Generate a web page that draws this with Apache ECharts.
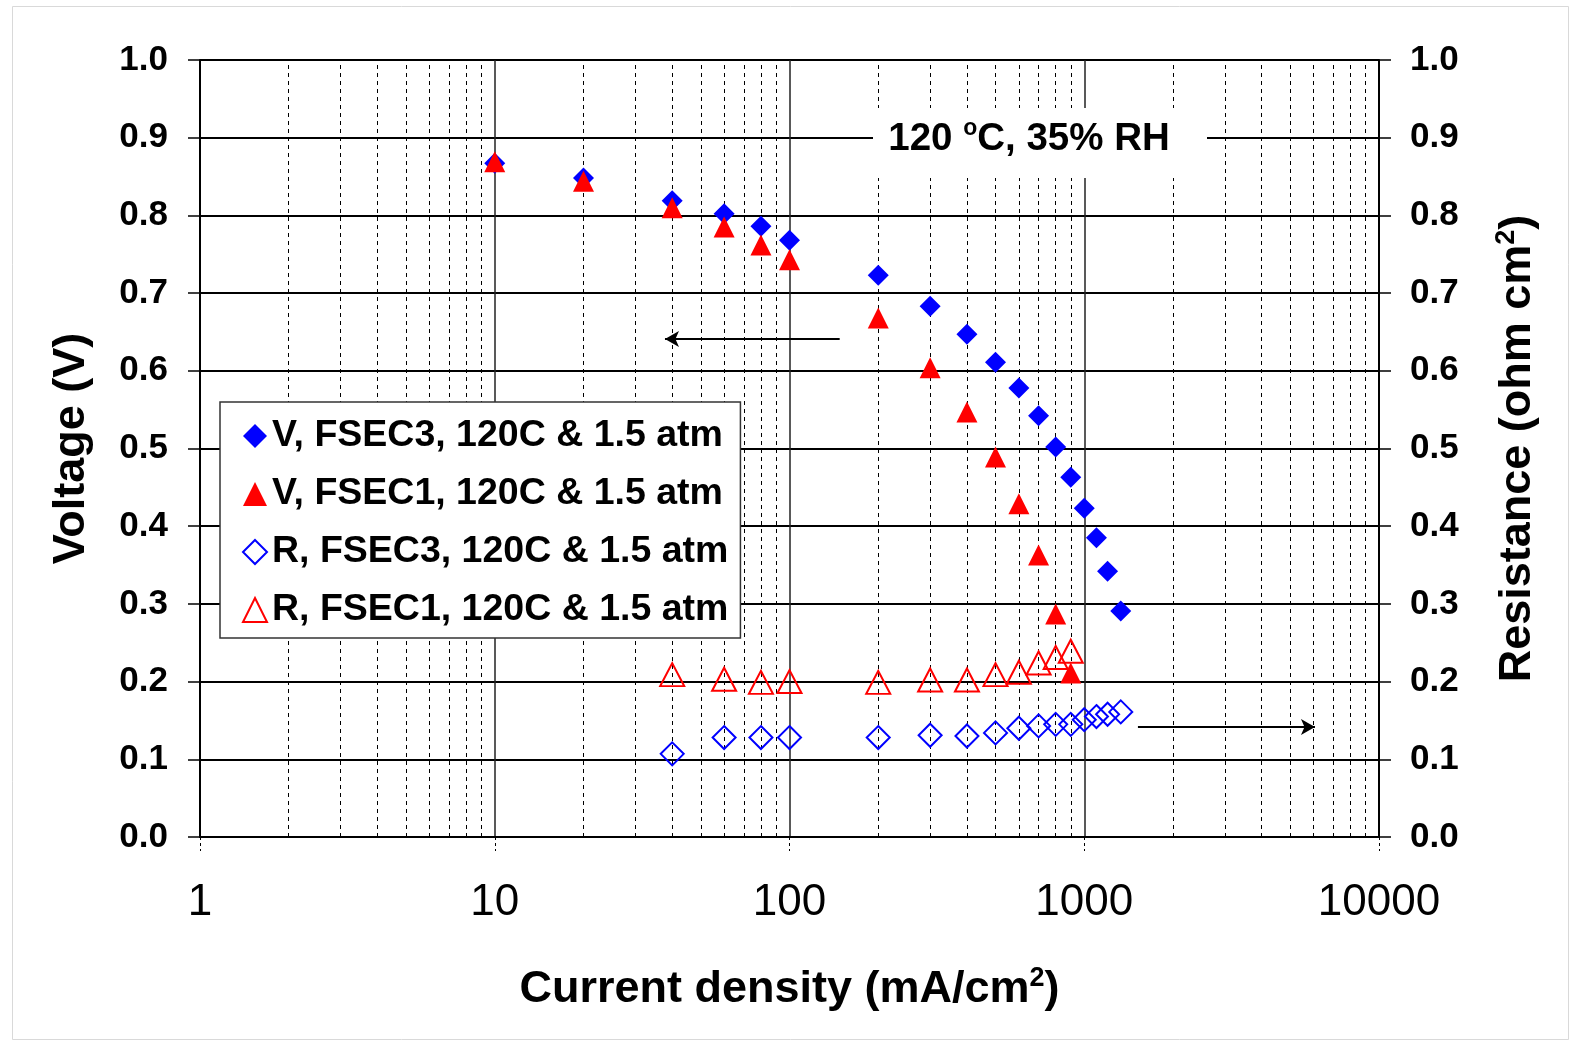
<!DOCTYPE html>
<html>
<head>
<meta charset="utf-8">
<script src="https://cdn.jsdelivr.net/npm/echarts/dist/echarts.min.js"></script>
<style>
html,body{margin:0;padding:0;background:#fff;}
#c{width:1571px;height:1041px;}
</style>
</head>
<body>
<div id="c"></div>
<script>
// ---- data ----
var xV3 = [10, 20, 40, 60, 80, 100, 200, 300, 400, 500, 600, 700, 800, 900, 1000, 1100, 1200, 1330];
var vFSEC3 = [0.867, 0.848, 0.819, 0.802, 0.786, 0.768, 0.723, 0.683, 0.647, 0.611, 0.578, 0.542, 0.502, 0.463, 0.423, 0.385, 0.342, 0.291];
var xV1 = [10, 20, 40, 60, 80, 100, 200, 300, 400, 500, 600, 700, 800, 900];
var vFSEC1 = [0.869, 0.844, 0.810, 0.785, 0.762, 0.743, 0.668, 0.604, 0.547, 0.489, 0.429, 0.363, 0.287, 0.211];
var xR3 = [40, 60, 80, 100, 200, 300, 400, 500, 600, 700, 800, 900, 1000, 1100, 1200, 1330];
var rFSEC3 = [0.107, 0.128, 0.128, 0.128, 0.128, 0.131, 0.130, 0.134, 0.140, 0.143, 0.145, 0.145, 0.151, 0.155, 0.158, 0.161];
var xR1 = [40, 60, 80, 100, 200, 300, 400, 500, 600, 700, 800, 900];
var rFSEC1 = [0.209, 0.203, 0.199, 0.200, 0.199, 0.202, 0.202, 0.209, 0.212, 0.224, 0.231, 0.239];
var seriesNames = ['V, FSEC3, 120C & 1.5 atm', 'V, FSEC1, 120C & 1.5 atm', 'R, FSEC3, 120C & 1.5 atm', 'R, FSEC1, 120C & 1.5 atm'];
var minorGridX = [2, 3, 4, 5, 6, 7, 8, 9, 20, 30, 40, 50, 60, 70, 80, 90, 200, 300, 400, 500, 600, 700, 800, 900, 2000, 3000, 4000, 5000, 6000, 7000, 8000, 9000];

function pairs(xs, ys) { return xs.map(function (x, i) { return [x, ys[i]]; }); }

var FONT = '"Liberation Sans", Arial, sans-serif';
var chart = echarts.init(document.getElementById('c'), null, {renderer: 'canvas'});

var option = {
  backgroundColor: '#fff',
  animation: false,
  textStyle: {fontFamily: FONT},
  grid: {left: 200, right: 192, top: 60, bottom: 204, containLabel: false},
  xAxis: {
    type: 'log', logBase: 10, min: 1, max: 10000,
    axisLine: {show: true, onZero: false, lineStyle: {color: '#000', width: 2}},
    axisTick: {show: true, length: 14, lineStyle: {color: '#000', width: 1, type: [3, 3]}},
    axisLabel: {color: '#000', fontSize: 44, fontFamily: FONT, margin: 44,
      formatter: function (v) { return String(Math.round(v)); }},
    splitLine: {show: true, lineStyle: {color: '#222', width: 1.5}},
    minorTick: {show: false}, minorSplitLine: {show: false},
    name: 'Current density (mA/cm{s|2})',
    nameLocation: 'middle', nameGap: 128,
    nameTextStyle: {color: '#000', fontSize: 45, fontWeight: 'bold', fontFamily: FONT, lineHeight: 50,
      rich: {s: {fontSize: 27, fontWeight: 'bold', fontFamily: FONT, verticalAlign: 'top', lineHeight: 26, color: '#000'}}}
  },
  yAxis: [{
    type: 'value', min: 0, max: 1, interval: 0.1,
    axisLine: {show: true, lineStyle: {color: '#000', width: 2}},
    axisTick: {show: true, length: 12, lineStyle: {color: '#000', width: 1.5}},
    axisLabel: {color: '#000', fontSize: 35, fontWeight: 'bold', fontFamily: FONT, margin: 32,
      formatter: function (v) { return v.toFixed(1); }},
    splitLine: {show: true, lineStyle: {color: '#000', width: 2}},
    name: 'Voltage (V)', nameLocation: 'middle', nameGap: 106, nameRotate: 90,
    nameTextStyle: {color: '#000', fontSize: 45, fontWeight: 'bold', fontFamily: FONT}
  }, {
    type: 'value', min: 0, max: 1, interval: 0.1, position: 'right',
    axisLine: {show: true, lineStyle: {color: '#000', width: 2}},
    axisTick: {show: true, length: 12, lineStyle: {color: '#000', width: 1.5}},
    axisLabel: {color: '#000', fontSize: 35, fontWeight: 'bold', fontFamily: FONT, margin: 31,
      formatter: function (v) { return v.toFixed(1); }},
    splitLine: {show: false},
    name: 'Resistance (ohm cm{s|2})', nameLocation: 'middle', nameGap: 114, nameRotate: 90,
    nameTextStyle: {color: '#000', fontSize: 45, fontWeight: 'bold', fontFamily: FONT, lineHeight: 50,
      rich: {s: {fontSize: 27, fontWeight: 'bold', fontFamily: FONT, verticalAlign: 'top', lineHeight: 26, color: '#000'}}}
  }],
  legend: {
    orient: 'vertical', left: 220, top: 402, z: 20,
    data: seriesNames,
    backgroundColor: '#fff', borderColor: '#333', borderWidth: 1.5,
    padding: [14, 12, 8, 22],
    itemWidth: 24, itemHeight: 24, itemGap: 18, itemTextGap: 8,
    textStyle: {color: '#000', fontSize: 37.5, fontWeight: 'bold', fontFamily: FONT, lineHeight: 40}
  },
  graphic: [{
    type: 'rect', left: 10, top: 4, z: -1,
    shape: {width: 1556, height: 1033},
    style: {fill: 'none', stroke: '#d9d9d9', lineWidth: 1}
  }, {
    type: 'rect', z: 50,
    shape: {x: 873, y: 108, width: 334, height: 70},
    style: {fill: '#fff'}
  }, {
    type: 'text', z: 51, x: 1029, y: 139,
    style: {
      text: '{n|120 }{s|o}{n|C, 35% RH}',
      align: 'center', verticalAlign: 'middle',
      rich: {
        n: {fontSize: 38.5, fontWeight: 'bold', fontFamily: FONT, fill: '#000', lineHeight: 44},
        s: {fontSize: 23, fontWeight: 'bold', fontFamily: FONT, fill: '#000', lineHeight: 20, verticalAlign: 'top'}
      }
    }
  }],
  series: [{
    name: '_grid', type: 'scatter', data: [], z: 1, silent: true,
    markLine: {
      z: 1, silent: true, symbol: ['none', 'none'], label: {show: false},
      lineStyle: {color: '#000', width: 1, type: [4, 4]},
      emphasis: {disabled: true},
      data: minorGridX.map(function (v) { return {xAxis: v}; })
    }
  }, {
    name: '_arrows', type: 'scatter', data: [], z: 2, silent: true,
    markLine: {
      z: 2, silent: true, symbol: ['none', 'arrow'], symbolSize: [12, 14], label: {show: false},
      lineStyle: {color: '#000', width: 2, type: 'solid'},
      emphasis: {disabled: true},
      data: [
        [{coord: [148, 0.641]}, {coord: [37.8, 0.641]}],
        [{coord: [1521, 0.1416]}, {coord: [6065, 0.1416]}]
      ]
    }
  }, {
    name: seriesNames[0], type: 'scatter', yAxisIndex: 0, z: 3,
    symbol: 'diamond', symbolSize: 21,
    itemStyle: {color: '#0000ff', opacity: 1},
    data: pairs(xV3, vFSEC3)
  }, {
    name: seriesNames[1], type: 'scatter', yAxisIndex: 0, z: 4,
    symbol: 'triangle', symbolSize: [21, 21],
    itemStyle: {color: '#ff0000', opacity: 1},
    data: pairs(xV1, vFSEC1)
  }, {
    name: seriesNames[2], type: 'scatter', yAxisIndex: 1, z: 5,
    symbol: 'diamond', symbolSize: 23,
    itemStyle: {color: 'rgba(255,255,255,0)', borderColor: '#0000ff', borderWidth: 2, opacity: 1},
    data: pairs(xR3, rFSEC3)
  }, {
    name: seriesNames[3], type: 'scatter', yAxisIndex: 1, z: 6,
    symbol: 'triangle', symbolSize: [24, 23],
    itemStyle: {color: 'rgba(255,255,255,0)', borderColor: '#ff0000', borderWidth: 2, opacity: 1},
    data: pairs(xR1, rFSEC1)
  }]
};
chart.setOption(option);
</script>
</body>
</html>
